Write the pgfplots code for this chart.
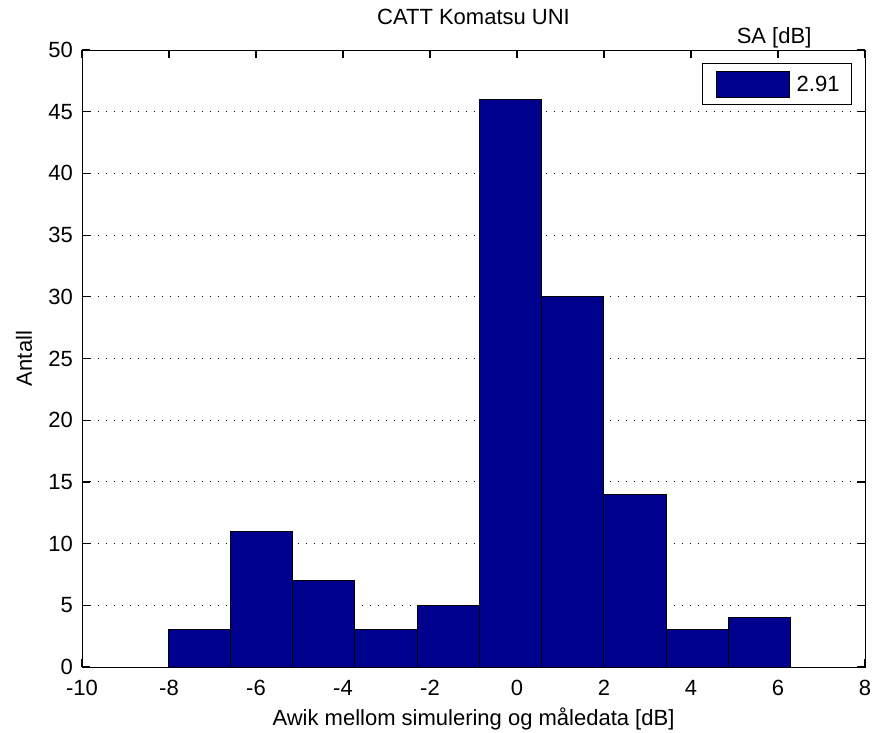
\documentclass[border=0pt]{standalone}
\usepackage{fontspec}
\setmainfont{Liberation Sans}
\usepackage{pgfplots}
\pgfplotsset{compat=1.18}
\definecolor{barblue}{rgb}{0,0,0.5608}
\newcommand\ff{\fontsize{22}{26}\selectfont}
\begin{document}
\begin{tikzpicture}
\path[use as bounding box] (0,0) rectangle (875pt,732pt);
\begin{axis}[
  at={(82pt,65pt)}, anchor=south west,
  scale only axis, width=783pt, height=617pt,
  xmin=-10, xmax=8, ymin=0, ymax=50,
  xtick={-10,-8,...,8}, ytick={0,5,...,50},
  tick align=inside, tick pos=both,
  major tick length=8pt,
  axis line style={line width=1pt},
  every major tick/.append style={black, line width=1.2pt},
  ymajorgrids, grid style={black, line width=0.9pt, dash pattern=on 1.2pt off 6.8pt},
  /pgf/number format/assume math mode=true,
  ticklabel style={font=\ff},
  xticklabel style={anchor=base, yshift=-28pt, inner sep=0pt},
  yticklabel style={anchor=east, xshift=-9pt, inner sep=0pt},
  title={CATT Komatsu UNI},
  title style={font=\ff, at={(axis description cs:0.5,1.0324)}, anchor=base},
  xlabel={Awik mellom simulering og måledata [dB]},
  xlabel style={font=\ff, at={(axis description cs:0.5,-0.094)}, anchor=base},
  ylabel={Antall},
  ylabel style={font=\ff, at={(axis description cs:-0.0639,0.5)}, anchor=base},
  legend style={at={(axis description cs:1,1)}, anchor=north east, xshift=-13pt, yshift=-13pt,
    draw=black, line width=1pt, fill=white, inner sep=0pt,
    nodes={inner sep=0pt, text depth=0pt}, font=\ff, name=leg},
]
\addplot[ybar interval, fill=barblue, draw=black, line width=1pt,
  legend image code/.code={
    \path[fill=none, draw=none] (-14pt,-20.5pt) rectangle (80pt,20.5pt);
    \draw[fill=barblue, draw=black, line width=1pt] (0pt,-13pt) rectangle (73pt,13pt);}]
  coordinates {(-8.02,3) (-6.589,11) (-5.158,7) (-3.727,3) (-2.296,5) (-0.865,46)
               (0.566,30) (1.997,14) (3.428,3) (4.859,4) (6.29,4)};
\addlegendentry{2.91\hspace*{12pt}}
\end{axis}
\node[font=\ff, anchor=base] at ([xshift=-3pt,yshift=19pt]leg.north) {SA [dB]};
\end{tikzpicture}
\end{document}
